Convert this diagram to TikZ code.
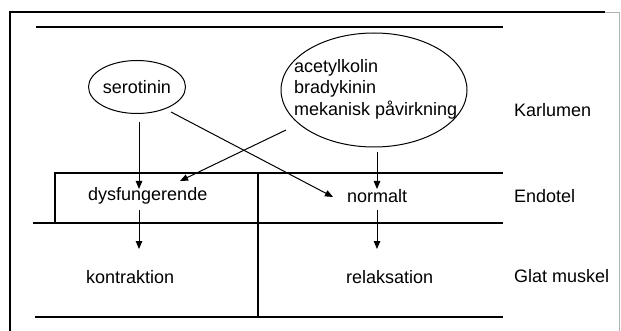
\documentclass[tikz,border=0pt]{standalone}
\usepackage{fontspec}
\setmainfont{Liberation Sans}
\usetikzlibrary{arrows.meta,shapes.geometric}
\begin{document}
\begin{tikzpicture}[x=1pt,y=-1pt,
  lbl/.style={font=\fontsize{18}{21.5}\selectfont, inner sep=0pt, anchor=west},
  ln/.style={line width=1.1pt},
  arr/.style={line width=1pt, -{Triangle[length=8pt,width=6.5pt]}},
  oval/.style={draw, ellipse, line width=1pt, inner sep=0pt, font=\fontsize{18}{21.5}\selectfont}]
\useasboundingbox (0,0) rectangle (621,331);
% frame
\draw[line width=1.2pt] (10,331) -- (10,12) -- (605,12);
\draw[line width=0.8pt, gray!60] (605,12) -- (619,12) -- (619,331);
% layer lines
\draw[ln] (36,27) -- (503,27);
\draw[ln] (55,223) -- (55,173) -- (503,173);
\draw[ln] (33,223) -- (503,223);
\draw[ln] (258,173) -- (258,317);
\draw[ln] (35,317) -- (503,317);
% ellipses
\node[oval, minimum width=97pt, minimum height=53pt] (sero) at (137,87) {serotinin};
\node[oval, minimum width=186pt, minimum height=114pt] (big) at (374,90) {};
\node[lbl, align=left, anchor=west] (acet) at (294,89) {acetylkolin\\bradykinin\\mekanisk påvirkning};
% labels
\node[lbl] (kar) at (514,110) {Karlumen};
\node[lbl] (endo) at (514,196) {Endotel};
\node[lbl] (glat) at (514,276) {Glat muskel};
\node[lbl] (dys) at (88,196) {dysfungerende};
\node[lbl] (kon) at (86,277) {kontraktion};
\node[lbl] (norm) at (347,196) {normalt};
\node[lbl] (rel) at (346,277) {relaksation};
% arrows
\coordinate (s1) at (139,122);
\coordinate (s1e) at (139,189);
\draw[arr] (s1) -- (s1e);
\coordinate (s2) at (171,112);
\coordinate (s2e) at (333,197);
\draw[arr] (s2) -- (s2e);
\coordinate (a1) at (286,130);
\coordinate (a1e) at (180,181);
\draw[arr] (a1) -- (a1e);
\coordinate (a2) at (377,152);
\coordinate (a2e) at (377,189);
\draw[arr] (a2) -- (a2e);
\coordinate (d1) at (139,210);
\coordinate (d1e) at (139,249);
\draw[arr] (d1) -- (d1e);
\coordinate (n1) at (377,210);
\coordinate (n1e) at (377,249);
\draw[arr] (n1) -- (n1e);
\end{tikzpicture}
\end{document}
